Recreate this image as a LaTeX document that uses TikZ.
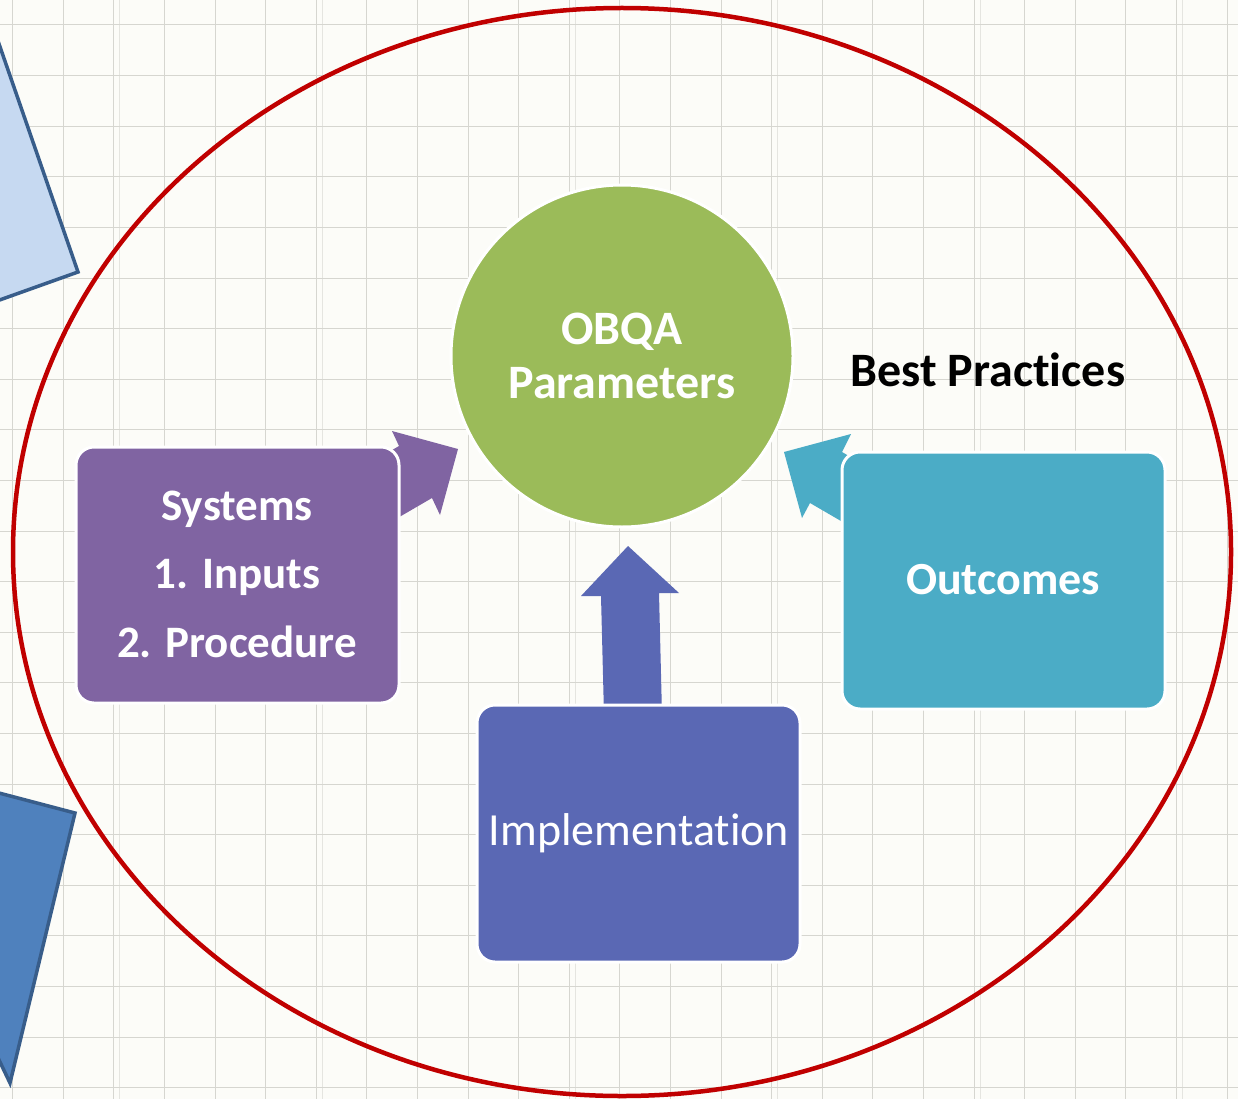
\documentclass[tikz,border=0pt]{standalone}
\usepackage{fontspec}
\setmainfont[Ligatures=NoCommon]{Carlito}
\definecolor{bgc}{RGB}{252,252,248}
\definecolor{gridc}{RGB}{214,214,208}
\definecolor{ringred}{RGB}{192,0,0}
\definecolor{lightq}{RGB}{198,217,241}
\definecolor{darkq}{RGB}{79,129,189}
\definecolor{qedge}{RGB}{56,93,138}
\definecolor{obqagreen}{RGB}{155,187,89}
\definecolor{syspurple}{RGB}{128,100,162}
\definecolor{outcyan}{RGB}{75,172,198}
\definecolor{implblue}{RGB}{90,104,180}
\begin{document}
\begin{tikzpicture}[x=1pt,y=-1pt,
  boxstyle/.style={draw=white,line width=3pt,rounded corners=18pt,inner sep=0pt,outer sep=0pt,
     text=white,align=center,anchor=north west},
  quadstyle/.style={draw=qedge,line width=3.5pt,line join=miter},
  labelw/.style={text=white,align=center}
]
\useasboundingbox (0,0) rectangle (1238,1099);
\fill[bgc] (0,0) rectangle (1238,1099);
% grid
\foreach \k in {0,...,24}{
  \draw[gridc,line width=1pt] ({12.6+50.6*\k},0) -- ({12.6+50.6*\k},1099);
}
\foreach \k in {2,6,11,15,19,23}{
  \draw[gridc!60!bgc,line width=0.8pt] ({18.6+50.6*\k},0) -- ({18.6+50.6*\k},1099);
}
\foreach \k in {0,...,21}{
  \draw[gridc,line width=1pt] (0,{25+50.6*\k}) -- (1238,{25+50.6*\k});
}
% side quads
\filldraw[quadstyle,fill=lightq] (-20,-11) -- (78,272) -- (-20,307) -- cycle;
\filldraw[quadstyle,fill=darkq] (-20,788) -- (75,813) -- (10,1083) -- (-20,1020) -- cycle;
% red ring
\draw[ringred,line width=4.5pt] (622,552) ellipse [x radius=609, y radius=544];

% central circle
\node[circle,fill=obqagreen,draw=white,line width=3pt,minimum size=342pt,inner sep=0pt,
      labelw,font=\fontsize{48}{54}\selectfont\bfseries]
  (obqa) at (622,356) {OBQA\\Parameters};

% arrows (drawn before boxes)
\coordinate (ptip) at (458,449);
\coordinate (ctip) at (784,452);
\coordinate (itip) at (628,546);
\fill[syspurple] (ptip) -- (392,431) -- (399,446) -- (356,471) -- (389,523) -- (432,498) -- (440,515) -- cycle;
\fill[outcyan] (ctip) -- (851,434) -- (842,452) -- (885,477) -- (853,528) -- (810,503) -- (802,518) -- cycle;
\fill[implblue] (itip) -- (679,593) -- (659,593) -- (662,715) -- (604,715) -- (601,596) -- (581,596) -- cycle;

% boxes
\node[boxstyle,fill=syspurple,minimum width=323pt,minimum height=256pt] (sys) at (76,447) {};
\node[boxstyle,fill=outcyan,minimum width=323pt,minimum height=257pt] (out) at (842,452) {};
\node[boxstyle,fill=implblue,minimum width=323pt,minimum height=257pt] (impl) at (477,705) {};

\node[labelw,font=\fontsize{45}{68.5}\selectfont\bfseries] (systxt) at (237,574)
  {Systems\\1. Inputs\\2. Procedure};
\node[labelw,font=\fontsize{46}{53}\selectfont\bfseries] (outtxt) at (1003,580) {Outcomes};
\node[labelw,font=\fontsize{46}{53}\selectfont] (impltxt) at (639,833) {Implementation};
\node[text=black,font=\fontsize{48}{53}\selectfont\bfseries] (best) at (988,370) {Best Practices};
\end{tikzpicture}
\end{document}
